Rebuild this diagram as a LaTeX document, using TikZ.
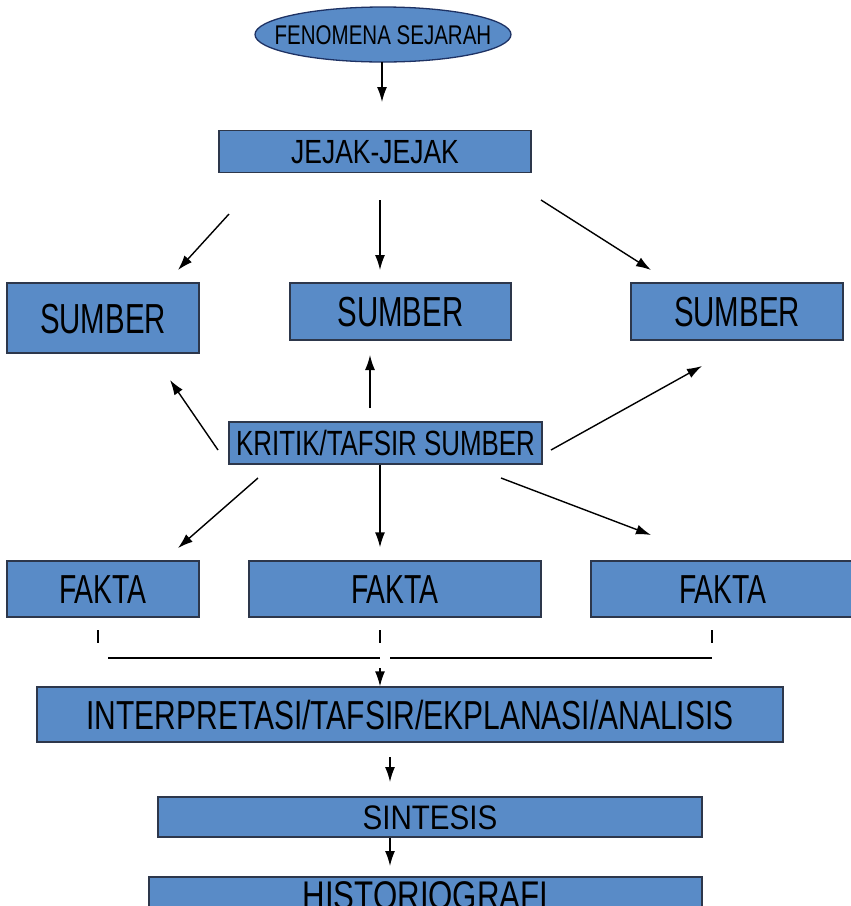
\documentclass[tikz,border=0pt]{standalone}
\usepackage{fontspec}
\usepackage{graphicx}
\setmainfont{Liberation Sans}
\usetikzlibrary{shapes.geometric,arrows.meta}
\definecolor{boxc}{RGB}{89,139,199}
\definecolor{bordc}{RGB}{45,55,75}
\definecolor{ellbord}{RGB}{30,50,100}
\newcommand{\Tx}[3]{{\fontsize{#1}{#1}\selectfont\raisebox{0pt}[0.716em][0pt]{\scalebox{#2}[1]{#3}}}}
\tikzset{
  box/.style={draw=bordc, fill=boxc, line width=1.3pt, inner sep=0pt},
  ellbox/.style={ellipse, draw=ellbord, fill=boxc, line width=1.3pt, inner sep=0pt},
  arr/.style={line width=1.4pt, -{Latex[length=15pt,width=10pt]}},
  plain/.style={line width=1.4pt}
}
\begin{document}
\begin{tikzpicture}[x=1pt,y=-1pt]
\useasboundingbox (0,0) rectangle (851,906);
\clip (0,0) rectangle (851,906);
% nodes
\node[ellbox, minimum width=256pt, minimum height=55pt] (fen) at (383,34.5) {\makebox[0pt]{\Tx{27}{0.76}{FENOMENA SEJARAH}}};
\node[box, minimum width=312pt, minimum height=42pt] (jej) at (375,151.5) {\Tx{33.5}{0.79}{JEJAK-JEJAK}};
\node[box, minimum width=192pt, minimum height=70pt] (s1) at (103,318) {\Tx{42}{0.70}{SUMBER}};
\node[box, minimum width=221pt, minimum height=57pt] (s2) at (400.5,311.5) {\Tx{42}{0.70}{SUMBER}};
\node[box, minimum width=212pt, minimum height=57pt] (s3) at (737,311.5) {\Tx{42}{0.70}{SUMBER}};
\node[box, minimum width=313pt, minimum height=42pt] (kr) at (385.5,443) {\Tx{35}{0.74}{KRITIK/TAFSIR SUMBER}};
\node[box, minimum width=192pt, minimum height=56pt] (f1) at (103,589) {\Tx{40.5}{0.70}{FAKTA}};
\node[box, minimum width=292pt, minimum height=56pt] (f2) at (395,589) {\Tx{40.5}{0.70}{FAKTA}};
\node[box, minimum width=264pt, minimum height=56pt] (f3) at (723,589) {\Tx{40.5}{0.70}{FAKTA}};
\node[box, minimum width=746pt, minimum height=55pt] (int) at (410,714.5) {\Tx{40.5}{0.74}{INTERPRETASI/TAFSIR/EKPLANASI/ANALISIS}};
\node[box, minimum width=544pt, minimum height=40pt] (sin) at (430,817) {\Tx{34}{0.87}{SINTESIS}};
\node[box, minimum width=553pt, minimum height=36pt] (his) at (425.5,895) {\Tx{40}{0.78}{HISTORIOGRAFI}};
% named arrow ends
\coordinate (a1s) at (382,62);   \coordinate (a1e) at (382,102);
\coordinate (j1s) at (229,214);  \coordinate (j1e) at (178,270);
\coordinate (j2s) at (380,200);  \coordinate (j2e) at (380,270);
\coordinate (j3s) at (541,200);  \coordinate (j3e) at (651,270);
\coordinate (k1s) at (218,450);  \coordinate (k1e) at (170,380);
\coordinate (k2s) at (370,408);  \coordinate (k2e) at (370,355);
\coordinate (k3s) at (551,450);  \coordinate (k3e) at (702,366);
\coordinate (k4s) at (258,478);  \coordinate (k4e) at (178,548);
\coordinate (k6s) at (501,478);  \coordinate (k6e) at (651,535);
\coordinate (t1s) at (98,630);   \coordinate (t1e) at (98,643);
\coordinate (t2s) at (380,630);  \coordinate (t2e) at (380,643);
\coordinate (t3s) at (712,630);  \coordinate (t3e) at (712,643);
\coordinate (h1s) at (108,658);  \coordinate (h1e) at (380,658);
\coordinate (h2s) at (390,658);  \coordinate (h2e) at (712,658);
\coordinate (m1s) at (380,668);
\coordinate (i1s) at (390,757);  \coordinate (i1e) at (390,782);
\coordinate (s1s) at (390,838);  \coordinate (s1e) at (390,866);
% connectors
\draw[arr] (a1s) -- (a1e);
\draw[arr] (j1s) -- (j1e);
\draw[arr] (j2s) -- (j2e);
\draw[arr] (j3s) -- (j3e);
\draw[arr] (k1s) -- (k1e);
\draw[arr] (k2s) -- (k2e);
\draw[arr] (k3s) -- (k3e);
\draw[arr] (k4s) -- (k4e);
\draw[arr] (kr.south -| j2s) -- ([yshift=13pt]f2.north -| j2s);
\draw[arr] (k6s) -- (k6e);
\draw[plain] (t1s) -- (t1e);
\draw[plain] (t2s) -- (t2e);
\draw[plain] (t3s) -- (t3e);
\draw[plain] (h1s) -- (h1e);
\draw[plain] (h2s) -- (h2e);
\draw[arr] (m1s) -- (int.north -| m1s);
\draw[arr] (i1s) -- (i1e);
\draw[arr] (sin.south -| s1s) -- (s1e);
\end{tikzpicture}
\end{document}
